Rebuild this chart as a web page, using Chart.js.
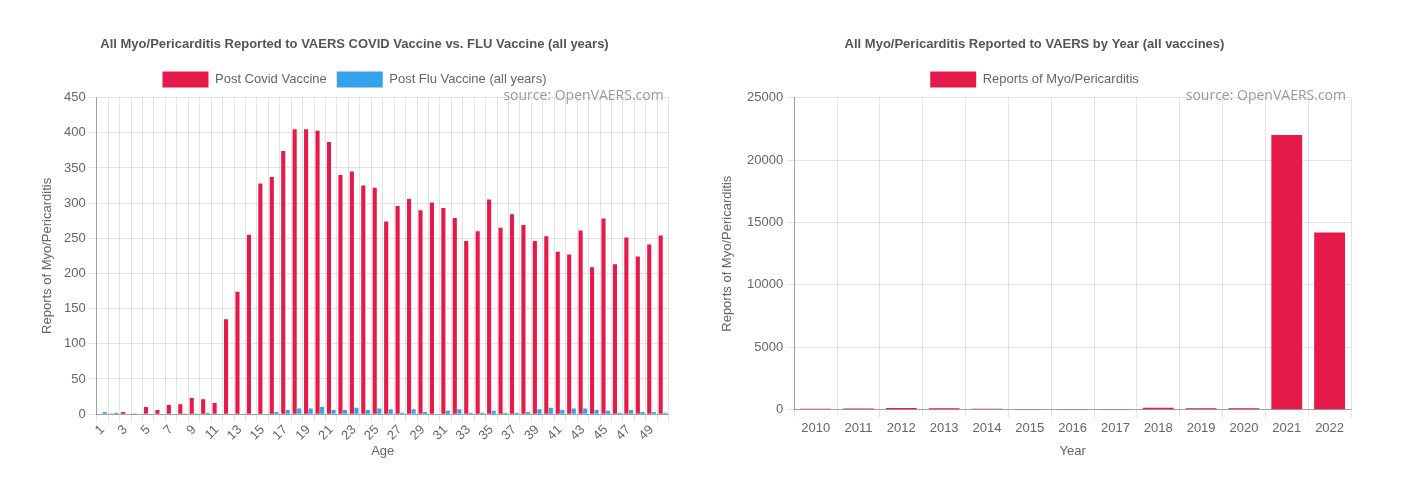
<!DOCTYPE html>
<html>
<head>
<meta charset="utf-8">
<script src="https://cdn.jsdelivr.net/npm/chart.js@4.4.0/dist/chart.umd.min.js"></script>
<style>
  body { margin: 0; background: #fff; }
  .box { position: absolute; top: 27px; }
  #leftBox { left: 31px; width: 643px; height: 436px; }
  #rightBox { left: 714px; width: 641px; height: 436px; }
</style>
</head>
<body>
<div class="box" id="leftBox"><canvas id="ageChart"></canvas></div>
<div class="box" id="rightBox"><canvas id="yearChart"></canvas></div>
<script>
// Age chart data
const ages = ['1','2','3','4','5','6','7','8','9','10','11','12','13','14','15','16','17','18','19','20',
  '21','22','23','24','25','26','27','28','29','30','31','32','33','34','35','36','37','38','39','40',
  '41','42','43','44','45','46','47','48','49','50'];
const covidReports = [0, 1, 3, 1, 10, 6, 13, 14, 23, 21, 16, 135, 174, 255, 328, 337, 374, 405, 405, 403,
  387, 340, 345, 325, 322, 274, 296, 306, 290, 301, 293, 279, 246, 260, 305, 265, 284, 269, 246, 253,
  231, 227, 261, 209, 278, 213, 251, 224, 241, 254];
const fluReports = [3, 2, 0, 0, 0, 0, 0, 1, 1, 2, 0, 0, 0, 0, 0, 3, 6, 8, 8, 10,
  6, 6, 9, 6, 8, 7, 2, 7, 3, 0, 5, 7, 2, 2, 5, 2, 2, 3, 7, 9,
  6, 8, 8, 6, 5, 2, 6, 3, 3, 2];

// Year chart data
const years = ['2010','2011','2012','2013','2014','2015','2016','2017','2018','2019','2020','2021','2022'];
const yearReports = [90, 100, 140, 130, 90, 60, 55, 65, 170, 130, 120, 22000, 14200];

const RED = '#e6194b';
const BLUE = '#36a2eb';
const FONT = "'Liberation Sans', Arial, sans-serif";

Chart.defaults.font.family = FONT;
Chart.defaults.font.size = 13;
Chart.defaults.color = '#666';
Chart.defaults.animation = false;

// "source: OpenVAERS.com" stamp at the top right of the plot area
const sourcePlugin = {
  id: 'sourceStamp',
  afterDraw(chart) {
    const { ctx, chartArea } = chart;
    ctx.save();
    ctx.font = "14px 'Open Sans', sans-serif";
    ctx.fillStyle = '#999';
    ctx.textAlign = 'right';
    ctx.textBaseline = 'middle';
    ctx.fillText('source: OpenVAERS.com', chartArea.right - 5, chartArea.top - 2);
    ctx.restore();
  },
};

function baseOptions(title, xTitle, yPadTop, yPad, xPad, rightPad) {
  return {
    responsive: true,
    maintainAspectRatio: false,
    devicePixelRatio: 1,
    layout: { padding: { left: 4, right: rightPad, top: 0, bottom: 0 } },
    plugins: {
      title: {
        display: true,
        text: title,
        color: '#555',
        font: { size: 13, weight: 'bold' },
        padding: { top: 10, bottom: 9 },
      },
      legend: {
        labels: { boxWidth: 46, boxHeight: 16, font: { size: 13 } },
      },
      tooltip: { enabled: false },
    },
    scales: {
      x: {
        grid: { color: 'rgba(0,0,0,0.1)' },
        border: { color: 'rgba(0,0,0,0.3)' },
        title: { display: true, text: xTitle, padding: { top: xPad, bottom: 4 } },
      },
      y: {
        beginAtZero: true,
        grid: { color: 'rgba(0,0,0,0.1)' },
        border: { color: 'rgba(0,0,0,0.3)' },
        ticks: { callback: (value) => String(value) },
        title: {
          display: true,
          text: 'Reports of Myo/Pericarditis',
          padding: { top: yPadTop, bottom: yPad },
        },
      },
    },
  };
}

const ageOptions = baseOptions('All Myo/Pericarditis Reported to VAERS COVID Vaccine vs. FLU Vaccine (all years)', 'Age', 5, 5.5, 0, 0);
ageOptions.scales.y.max = 450;
ageOptions.scales.y.ticks.stepSize = 50;
ageOptions.scales.x.ticks = {
  autoSkip: false,
  minRotation: 45,
  maxRotation: 45,
  padding: 0,
  callback: function (value, index) {
    return index % 2 === 0 ? this.getLabelForValue(value) : '';
  },
};

new Chart(document.getElementById('ageChart'), {
  type: 'bar',
  data: {
    labels: ages,
    datasets: [
      { label: 'Post Covid Vaccine', data: covidReports, backgroundColor: RED },
      { label: 'Post Flu Vaccine (all years)', data: fluReports, backgroundColor: BLUE },
    ],
  },
  options: ageOptions,
  plugins: [sourcePlugin],
});

const yearOptions = baseOptions('All Myo/Pericarditis Reported to VAERS by Year (all vaccines)', 'Year', 2, 8.5, 4, 4);
yearOptions.scales.y.max = 25000;
yearOptions.scales.y.ticks.stepSize = 5000;
yearOptions.scales.x.ticks = { maxRotation: 0 };

new Chart(document.getElementById('yearChart'), {
  type: 'bar',
  data: {
    labels: years,
    datasets: [
      { label: 'Reports of Myo/Pericarditis', data: yearReports, backgroundColor: RED },
    ],
  },
  options: yearOptions,
  plugins: [sourcePlugin],
});
</script>
</body>
</html>
